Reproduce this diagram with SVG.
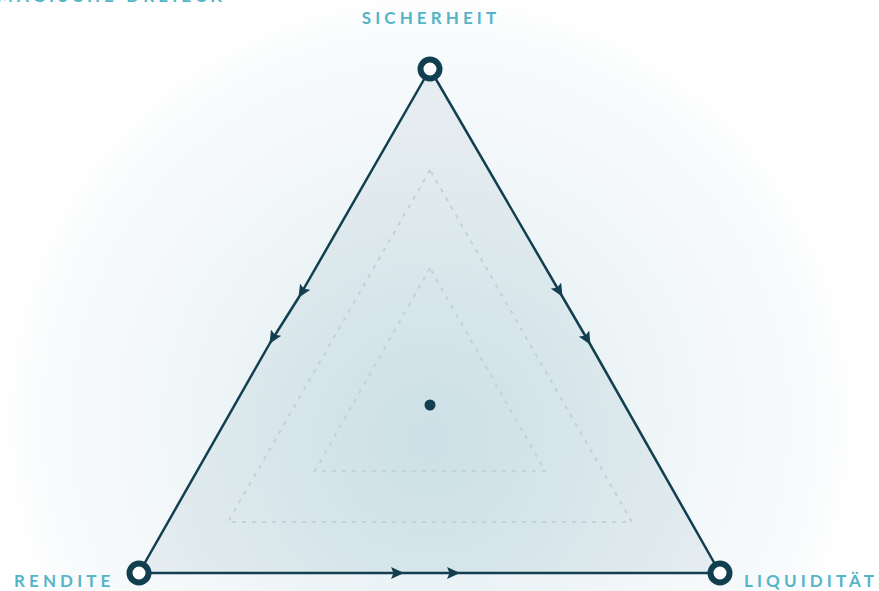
<svg xmlns="http://www.w3.org/2000/svg" width="879" height="591" viewBox="0 0 879 591">
<defs>
<radialGradient id="glow" cx="430" cy="420" r="428" gradientUnits="userSpaceOnUse">
<stop offset="0" stop-color="#dcebef"/>
<stop offset="0.55" stop-color="#f0f6f8"/>
<stop offset="0.92" stop-color="#f9fbfc"/>
<stop offset="1" stop-color="#ffffff"/>
</radialGradient>
<radialGradient id="tri" cx="430" cy="440" r="320" gradientUnits="userSpaceOnUse">
<stop offset="0" stop-color="#cbe0e6"/>
<stop offset="1" stop-color="#e6edf0"/>
</radialGradient>
<marker id="arr" viewBox="0 0 13 12" refX="12" refY="6" markerWidth="13" markerHeight="12" markerUnits="userSpaceOnUse" orient="auto">
<path d="M0,0 L13,6 L0,12 L2.5,6 z" fill="#123f50"/>
</marker>
<style>
.lbl{font-family:Lato,"Open Sans","DejaVu Sans",sans-serif;font-weight:700;font-size:17px;letter-spacing:4.1px;fill:#55b4c8}
.edge{fill:none;stroke:#123f50;stroke-width:2.5;stroke-linejoin:round}
.dash{fill:none;stroke:#c3d2d7;stroke-width:2;stroke-dasharray:4 6}
.vtx{fill:#ffffff;stroke:#123f50;stroke-width:6}
</style>
</defs>
<rect width="879" height="591" fill="#ffffff"/>
<circle cx="430" cy="420" r="428" fill="url(#glow)"/>
<text class="lbl" x="226" y="2" text-anchor="end">MAGISCHE DREIECK</text>
<g id="triangle">
<polygon points="430,69 139,573 720,573" fill="url(#tri)"/>
<polygon class="dash" points="430,170 228,522 632,522"/>
<polygon class="dash" points="430,268 315,471 545,471"/>
<circle cx="430" cy="405" r="5.5" fill="#123f50"/>
</g>
<g id="connectors">
<polyline class="edge" points="430,69 299,297 270,343 139,573" marker-mid="url(#arr)"/>
<polyline class="edge" points="430,69 562,296 590,344 720,573" marker-mid="url(#arr)"/>
<polyline class="edge" points="139,573 403,573 459,573 720,573" marker-mid="url(#arr)"/>
</g>
<g id="sicherheit">
<circle class="vtx" cx="430" cy="69" r="9.5"/>
<text class="lbl" x="431" y="24" text-anchor="middle">SICHERHEIT</text>
</g>
<g id="rendite">
<circle class="vtx" cx="139" cy="573" r="9.5"/>
<text class="lbl" x="14" y="587">RENDITE</text>
</g>
<g id="liquiditaet">
<circle class="vtx" cx="720" cy="573" r="9.5"/>
<text class="lbl" x="744" y="587">LIQUIDITÄT</text>
</g>
</svg>
